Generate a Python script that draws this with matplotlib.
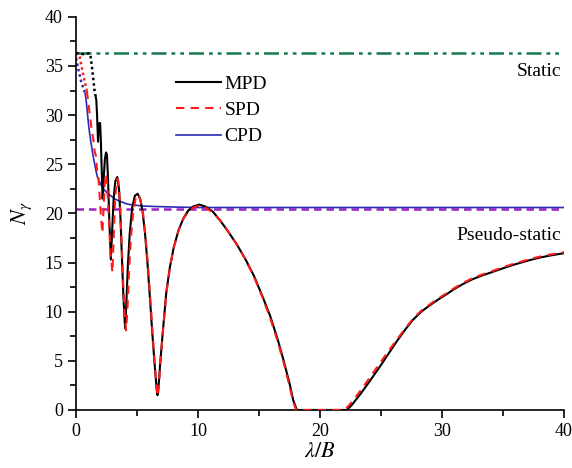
import matplotlib
matplotlib.use("Agg")
import matplotlib.pyplot as plt
from matplotlib.ticker import MultipleLocator

plt.rcParams['font.family'] = ['Liberation Serif', 'DejaVu Serif']
plt.rcParams['mathtext.fontset'] = 'stix'

# ---------------- data ----------------
static_value = 36.3
pseudo_value = 20.45
x_range = [0, 40]

mpd_dot_x = [0, 0.3, 0.6, 0.85, 1.1, 1.2, 1.3, 1.4, 1.5, 1.62]
mpd_dot_y = [36.3, 36.3, 36.2, 36.25, 36.3, 35.9, 34.9, 33.8, 32.6, 31.8]

mpd_x = [1.62, 1.66, 1.72, 1.80, 1.86, 1.92, 1.97, 2.03, 2.10, 2.18, 2.26, 2.36, 2.45,
         2.53, 2.62, 2.72, 2.85, 2.95, 3.08, 3.22, 3.38, 3.52, 3.64, 3.76, 3.88, 4.02,
         4.12, 4.25, 4.40, 4.60, 4.82, 5.05, 5.25, 5.45, 5.65, 5.85, 6.05, 6.25, 6.45,
         6.60, 6.67, 6.75, 6.90, 7.10, 7.40, 7.70, 8.00, 8.40, 8.80, 9.20, 9.60, 10.1,
         10.6, 11.2, 11.8, 12.5, 13.2, 13.9, 14.6, 15.3, 15.9, 16.5, 17.0, 17.5, 17.8,
         18.1, 19.0, 20.0, 21.0, 22.2, 22.6, 23.3, 24.0, 24.9, 25.6, 26.3, 27.0, 27.6,
         28.3, 29.0, 29.7, 30.4, 31.0, 31.7, 32.4, 33.1, 33.8, 34.5, 35.2, 35.8, 36.5,
         37.2, 38.0, 38.8, 39.5, 40.0]
mpd_y = [31.8, 31.5, 30.0, 27.3, 28.5, 29.2, 29.2, 27.5, 24.5, 21.5, 23.5, 25.5, 26.2,
         26.0, 23.5, 19.5, 15.3, 18.0, 21.5, 23.3, 23.7, 22.5, 19.5, 15.5, 11.5, 8.3,
         10.8, 14.8, 18.0, 20.6, 21.8, 22.0, 21.5, 20.2, 18.0, 15.0, 11.5, 7.8, 4.5,
         2.2, 1.5, 2.2, 4.8, 7.8, 12.0, 14.6, 16.5, 18.3, 19.5, 20.3, 20.7, 20.9,
         20.7, 20.2, 19.3, 18.1, 16.8, 15.3, 13.6, 11.5, 9.6, 7.3, 5.1, 2.7, 1.0,
         0.0, 0.0, 0.0, 0.0, 0.0, 0.5, 1.6, 2.8, 4.4, 5.7, 7.0, 8.2, 9.15,
         10.0, 10.65, 11.25, 11.8, 12.3, 12.8, 13.25, 13.6, 13.9, 14.2, 14.5, 14.75, 15.0,
         15.25, 15.5, 15.7, 15.85, 15.95]

spd_dot_x = [0, 0.15, 0.3, 0.45, 0.6, 0.75, 0.88]
spd_dot_y = [36.3, 36.3, 35.9, 35.0, 34.0, 33.2, 32.5]

spd_x = [0.88, 1.0, 1.15, 1.30, 1.42, 1.52, 1.62, 1.72, 1.83, 1.92, 2.05, 2.16, 2.25,
         2.35, 2.45, 2.55, 2.68, 2.82, 2.98, 3.08, 3.20, 3.35, 3.45, 3.58, 3.72, 3.86,
         4.00, 4.10, 4.20, 4.35, 4.50, 4.70, 4.92, 5.10, 5.30, 5.50, 5.70, 5.90, 6.10,
         6.30, 6.48, 6.62, 6.69, 6.78, 6.92, 7.12, 7.42, 7.72, 8.02, 8.42, 8.82, 9.22,
         9.62, 10.1, 10.6, 11.2, 11.8, 12.5, 13.2, 13.9, 14.6, 15.3, 15.9, 16.5, 17.0,
         17.5, 17.8, 18.05, 20.0, 22.0, 22.4, 23.1, 23.8, 24.7, 25.5, 26.2, 27.0, 27.6,
         28.3, 29.0, 29.7, 30.4, 31.0, 31.7, 32.4, 33.1, 33.8, 34.5, 35.2, 35.8, 36.5,
         37.2, 38.0, 38.8, 39.5, 40.0]
spd_y = [32.5, 31.3, 29.8, 28.3, 27.5, 26.3, 25.9, 24.3, 23.7, 22.0, 19.5, 18.0, 20.5,
         23.0, 24.0, 23.0, 19.5, 16.0, 14.0, 17.5, 21.5, 23.5, 23.4, 21.5, 17.5, 13.0,
         9.5, 8.1, 10.0, 14.3, 17.6, 20.4, 21.7, 21.9, 21.3, 19.9, 17.6, 14.6, 11.0,
         7.3, 4.1, 2.0, 1.4, 2.3, 5.0, 8.0, 12.1, 14.7, 16.6, 18.3, 19.5, 20.2,
         20.6, 20.8, 20.6, 20.1, 19.3, 18.1, 16.8, 15.3, 13.5, 11.4, 9.4, 7.1, 4.9,
         2.4, 0.8, 0.0, 0.0, 0.0, 0.5, 1.6, 2.8, 4.4, 5.8, 7.0, 8.3, 9.25,
         10.1, 10.75, 11.35, 11.9, 12.4, 12.9, 13.35, 13.7, 14.0, 14.3, 14.6, 14.85, 15.1,
         15.35, 15.6, 15.8, 15.95, 16.05]

cpd_dot_x = [0, 0.2, 0.4, 0.55, 0.74]
cpd_dot_y = [35.8, 34.6, 33.5, 32.9, 32.2]

cpd_x = [0.74, 0.82, 0.93, 1.05, 1.20, 1.35, 1.48, 1.62, 1.75, 2.0, 2.3, 2.6, 2.84,
         3.2, 3.66, 4.2, 4.7, 5.5, 6.5, 8.0, 10.0, 15.0, 40.0]
cpd_y = [32.2, 31.6, 30.2, 28.7, 27.4, 26.2, 25.3, 24.4, 23.7, 23.0, 22.4, 22.0, 21.8,
         21.45, 21.2, 20.95, 20.85, 20.75, 20.7, 20.65, 20.6, 20.6, 20.6]

x_ticks = [0, 10, 20, 30, 40]
y_ticks = [0, 5, 10, 15, 20, 25, 30, 35, 40]

# ---------------- plot ----------------
fig = plt.figure(figsize=(5.72, 4.68), dpi=100)
ax = fig.add_axes([0.133, 0.124, 0.853, 0.840])

ax.plot(x_range, [static_value, static_value], color='#147a4e', lw=1.8,
        dashes=(6, 2, 1.5, 2, 1.5, 2))
ax.plot(x_range, [pseudo_value, pseudo_value], color='#a020c8', lw=1.8,
        dashes=(3, 2))

ax.plot(cpd_dot_x, cpd_dot_y, color='#2b2bb8', lw=1.8, ls=(0, (1, 1.2)))
ax.plot(spd_dot_x, spd_dot_y, color='#ff1a1a', lw=1.8, ls=(0, (1, 1.2)))
ax.plot(mpd_dot_x, mpd_dot_y, color='black', lw=1.8, ls=(0, (1, 1.2)))

ax.plot(cpd_x, cpd_y, color='#2b2bb8', lw=1.2, label='CPD', zorder=3)
ax.plot(mpd_x, mpd_y, color='black', lw=1.5, label='MPD', zorder=4)
ax.plot(spd_x, spd_y, color='#ff1a1a', lw=1.5, dashes=(4, 3), label='SPD', zorder=5)

ax.set_xlim(0, 40)
ax.set_ylim(0, 40)
ax.set_xticks(x_ticks)
ax.set_yticks(y_ticks)
ax.xaxis.set_minor_locator(MultipleLocator(5))
ax.yaxis.set_minor_locator(MultipleLocator(2.5))
ax.tick_params(which='major', direction='out', length=6, width=1.2, labelsize=13)
ax.tick_params(which='minor', direction='out', length=4, width=1.2)
for s in ['top', 'right']:
    ax.spines[s].set_visible(False)
for s in ['left', 'bottom']:
    ax.spines[s].set_linewidth(1.2)

ax.set_xlabel(r'$\lambda/B$', fontsize=16, labelpad=2)
ax.set_ylabel(r'$N_\gamma$', fontsize=16, labelpad=8)

ax.text(39.8, 34.4, 'Static', ha='right', va='center', fontsize=14)
ax.text(39.8, 17.8, 'Pseudo-static', ha='right', va='center', fontsize=14)

h, l = ax.get_legend_handles_labels()
order = [l.index('MPD'), l.index('SPD'), l.index('CPD')]
ax.legend([h[i] for i in order], [l[i] for i in order], loc='upper left',
          bbox_to_anchor=(0.205, 0.852), frameon=False, fontsize=14,
          handlelength=2.3, handletextpad=0.2, labelspacing=0.45,
          borderpad=0, borderaxespad=0)

fig.savefig('out.png', dpi=100)
